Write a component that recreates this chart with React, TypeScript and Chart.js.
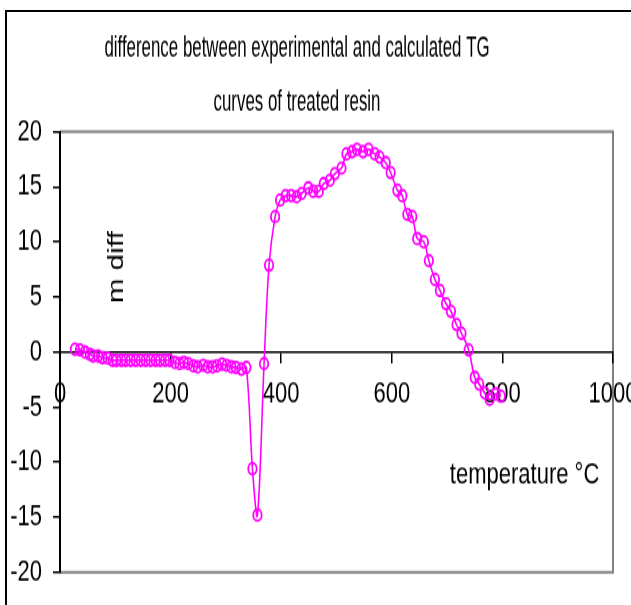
import React, { useEffect, useRef } from 'react';
import { Chart, registerables } from 'chart.js';

Chart.register(...registerables);

// ---- data ----
const temperatures = [
  27, 36, 45, 54, 60, 69, 77, 86, 95, 102,
  111, 119, 128, 137, 146, 155, 164, 173, 181, 190,
  198, 208, 216, 224, 232, 241, 249, 259, 267, 276,
  284, 293, 301, 310, 318, 328, 337, 348, 357, 369,
  378, 389, 398, 408, 418, 428, 437, 449, 458, 468,
  477, 488, 497, 509, 518, 528, 537, 548, 558, 569,
  578, 589, 598, 610, 619, 628, 637, 646, 658, 667,
  678, 687, 698, 707, 717, 726, 739, 750, 758, 768,
  777, 788, 797,
];

const massDiff = [
  0.25, 0.2, 0.0, -0.2, -0.35, -0.35, -0.5, -0.55, -0.75, -0.75,
  -0.75, -0.75, -0.75, -0.75, -0.75, -0.75, -0.75, -0.75, -0.75, -0.75,
  -0.75, -0.95, -1.05, -0.95, -1.05, -1.25, -1.35, -1.2, -1.35, -1.35,
  -1.25, -1.1, -1.2, -1.35, -1.4, -1.55, -1.4, -10.6, -14.8, -1.05,
  7.9, 12.3, 13.8, 14.2, 14.2, 14.1, 14.4, 14.9, 14.6, 14.6,
  15.3, 15.6, 16.2, 16.7, 18.0, 18.2, 18.4, 18.2, 18.4, 18.0,
  17.7, 17.2, 16.3, 14.7, 14.2, 12.5, 12.3, 10.3, 10.0, 8.3,
  6.6, 5.6, 4.4, 3.7, 2.5, 1.7, 0.2, -2.3, -2.9, -3.7,
  -4.3, -3.8, -4.0,
];

const xMin = 0;
const xMax = 1000;
const xStep = 200;
const yMin = -20;
const yMax = 20;
const yStep = 5;

const titleLines = [
  'difference between experimental and calculated TG',
  'curves of treated resin',
];
const yAxisLabel = 'm diff';
const xAxisLabel = 'temperature °C';

// ---- styling / layout ----
const W = 631;
const H = 605;
const STRETCH = 1.35;
const CH = Math.round(H / STRETCH); // canvas drawing height
const FONT = "'Liberation Sans', Arial, Helvetica, sans-serif";
const MAGENTA = '#FF00FF';

const labelPlugin = {
  id: 'labelsAndFrame',
  beforeDraw(chart: any) {
    const { ctx, chartArea: a } = chart;
    ctx.save();
    ctx.strokeStyle = '#808080';
    ctx.lineWidth = 2;
    ctx.beginPath();
    ctx.moveTo(a.left, a.top);
    ctx.lineTo(a.right, a.top);
    ctx.lineTo(a.right, a.bottom);
    ctx.lineTo(a.left, a.bottom);
    ctx.stroke();
    ctx.restore();
  },
  afterDraw(chart: any) {
    const { ctx } = chart;
    const xs = chart.scales.x;
    const ys = chart.scales.y;
    ctx.save();
    ctx.fillStyle = '#000';
    ctx.font = `22px ${FONT}`;

    // title (horizontally condensed like the original)
    ctx.textAlign = 'center';
    ctx.textBaseline = 'alphabetic';
    const titleBaselines = [42, 82];
    titleLines.forEach((line, i) => {
      ctx.save();
      ctx.translate(297, titleBaselines[i]);
      ctx.scale(0.767, 1);
      ctx.fillText(line, 0, 0);
      ctx.restore();
    });

    // y axis label, placed inside the plot as in the original
    ctx.save();
    ctx.translate(xs.getPixelForValue(114), ys.getPixelForValue(7.7));
    ctx.rotate(-Math.PI / 2);
    ctx.textAlign = 'center';
    ctx.fillText(yAxisLabel, 0, 0);
    ctx.restore();

    // x axis label
    ctx.textAlign = 'left';
    ctx.fillText(xAxisLabel, xs.getPixelForValue(705), ys.getPixelForValue(-11.9));
    ctx.restore();
  },
};

export default function App() {
  const ref = useRef<HTMLCanvasElement>(null);

  useEffect(() => {
    if (!ref.current) return;
    const points = temperatures.map((t, i) => ({ x: t, y: massDiff[i] }));
    const chart = new Chart(ref.current, {
      type: 'scatter',
      data: {
        datasets: [
          {
            label: yAxisLabel,
            data: points,
            showLine: true,
            borderColor: MAGENTA,
            borderWidth: 1.6,
            tension: 0.35,
            pointStyle: 'circle',
            pointRadius: 4.2,
            pointBorderWidth: 1.8,
            pointBorderColor: MAGENTA,
            pointBackgroundColor: 'rgba(0,0,0,0)',
            fill: false,
          },
        ],
      },
      options: {
        responsive: false,
        animation: false,
        devicePixelRatio: 1,
        layout: { padding: { left: 0, right: 18, top: 97.6, bottom: 22.8 } },
        plugins: {
          legend: { display: false },
          tooltip: { enabled: false },
          title: { display: false },
        },
        scales: {
          x: {
            type: 'linear',
            min: xMin,
            max: xMax,
            position: { y: 0 } as any,
            ticks: {
              stepSize: xStep,
              color: '#000',
              font: { family: FONT, size: 22 },
              padding: 11,
              maxRotation: 0,
              autoSkip: false,
              callback: (v: any) => String(v),
            },
            grid: {
              display: true,
              drawOnChartArea: false,
              drawTicks: true,
              tickLength: 7.4,
              color: '#000',
              lineWidth: 1.5,
            },
            border: { display: true, color: '#000', width: 1.5 },
            afterFit: (s: any) => {
              s.paddingLeft = 0;
              s.paddingRight = 0;
            },
          },
          y: {
            type: 'linear',
            min: yMin,
            max: yMax,
            position: 'left',
            ticks: {
              stepSize: yStep,
              color: '#000',
              font: { family: FONT, size: 22 },
              padding: 11,
              callback: (v: any) => String(v),
            },
            grid: {
              display: true,
              drawOnChartArea: false,
              drawTicks: true,
              tickLength: 7,
              color: '#000',
              lineWidth: 1.5,
            },
            border: { display: true, color: '#000', width: 2 },
            afterFit: (s: any) => {
              s.width = 60;
            },
          },
        },
      },
      plugins: [labelPlugin],
    } as any);
    return () => chart.destroy();
  }, []);

  return (
    <div
      style={{
        position: 'fixed',
        left: 0,
        top: 0,
        width: W,
        height: H,
        overflow: 'hidden',
        background: '#fff',
      }}
    >
      <div
        style={{
          position: 'absolute',
          left: 0,
          top: 0,
          width: W,
          height: CH,
          transform: `scaleY(${H / CH})`,
          transformOrigin: '0 0',
        }}
      >
        <canvas ref={ref} width={W} height={CH} style={{ display: 'block' }} />
      </div>
      <div
        style={{
          position: 'absolute',
          left: 5,
          top: 10,
          width: W + 50,
          height: H + 50,
          border: '2px solid #000',
          pointerEvents: 'none',
        }}
      />
    </div>
  );
}
